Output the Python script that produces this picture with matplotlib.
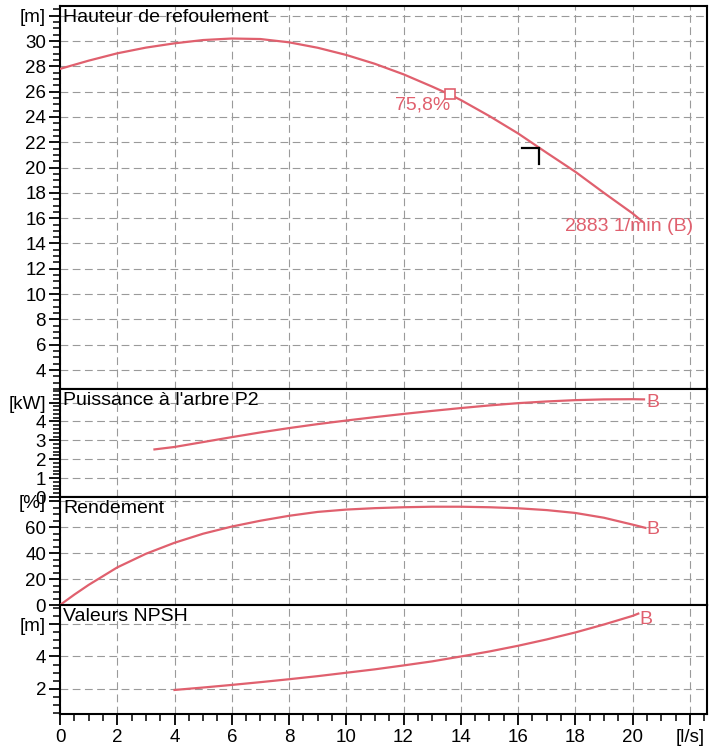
import matplotlib
matplotlib.use("Agg")
import matplotlib.pyplot as plt
from matplotlib.ticker import MultipleLocator

plt.rcParams['font.family'] = ['Liberation Sans', 'DejaVu Sans']

# ---------------- data ----------------
q_head = [0, 1, 2, 3, 4, 5, 6, 7, 8, 9, 10, 11, 12, 13, 13.6, 14, 15, 16, 17, 18, 19, 20, 20.35]
head = [27.8, 28.45, 29.03, 29.48, 29.82, 30.08, 30.2, 30.16, 29.9, 29.47, 28.9, 28.2,
        27.37, 26.4, 25.79, 25.34, 24.07, 22.7, 21.17, 19.67, 18.0, 16.38, 15.72]

q_power = [3.3, 4, 5, 6, 7, 8, 9, 10, 11, 12, 13, 14, 15, 16, 17, 18, 19, 20, 20.4]
power = [2.52, 2.65, 2.91, 3.17, 3.42, 3.65, 3.86, 4.05, 4.23, 4.4, 4.56, 4.71, 4.85,
         4.97, 5.06, 5.13, 5.17, 5.18, 5.17]

q_eff = [0, 0.5, 1, 2, 3, 4, 5, 6, 7, 8, 9, 10, 11, 12, 13, 14, 15, 16, 17, 18, 19, 20, 20.45]
eff = [0, 8, 15.5, 29, 39.5, 48, 55, 60.5, 65, 68.8, 71.8, 73.6, 74.7, 75.4, 75.8, 75.8,
       75.4, 74.6, 73.2, 71.0, 67.3, 62.0, 59.5]

q_npsh = [4, 5, 6, 7, 8, 9, 10, 11, 12, 13, 14, 15, 16, 17, 18, 19, 20, 20.2]
npsh = [1.94, 2.09, 2.25, 2.42, 2.6, 2.79, 3.0, 3.21, 3.45, 3.7, 4.0, 4.31, 4.66, 5.05,
        5.48, 5.97, 6.5, 6.64]

best_q, best_h, best_label = 13.63, 25.79, "75,8%"
duty_q, duty_h = 16.72, 21.57
speed_label = "2883 1/min (B)"
curve_label = "B"

titles = ["Hauteur de refoulement", "Puissance à l'arbre P2", "Rendement", "Valeurs NPSH"]

head_ticks = list(range(4, 33, 2))
head_labels = [str(t) for t in head_ticks[:-1]] + ["[m]"]
power_ticks = [0, 1, 2, 3, 4, 5]
power_labels = ["0", "1", "2", "3", "4", "[kW]"]
eff_ticks = [0, 20, 40, 60, 80]
eff_labels = ["0", "20", "40", "60", "[%]"]
npsh_ticks = [2, 4, 6]
npsh_labels = ["2", "4", "[m]"]
x_ticks = list(range(0, 23, 2))
x_labels = [str(t) for t in x_ticks[:-1]] + ["[l/s]"]

# ---------------- style ----------------
RED = '#e0606e'
GRID = dict(color='#9a9a9a', linestyle=(0, (7, 4)), linewidth=0.8)
W, H = 720, 746
fig = plt.figure(figsize=(W / 100, H / 100), dpi=100)

L = 60 / W
R = 707 / W
bounds = [(6, 389), (389, 497), (497, 605), (605, 714)]
ylims = [(2.5, 32.77), (0, 5.72), (0, 83.3), (0.46, 7.17)]
yticks = [head_ticks, power_ticks, eff_ticks, npsh_ticks]
ylabels = [head_labels, power_labels, eff_labels, npsh_labels]
yminor = [0.5, 0.2, 5, 0.5]

axes = []
for i, (top, bot) in enumerate(bounds):
    ax = fig.add_axes([L, 1 - bot / H, R - L, (bot - top) / H])
    ax.set_xlim(0, 22.6)
    ax.set_ylim(*ylims[i])
    ax.set_yticks(yticks[i])
    ax.set_yticklabels(ylabels[i])
    ax.yaxis.set_minor_locator(MultipleLocator(yminor[i]))
    ax.set_xticks(x_ticks)
    ax.xaxis.set_minor_locator(MultipleLocator(0.5))
    ax.grid(True, which='major', **GRID)
    ax.set_axisbelow(True)
    for s in ax.spines.values():
        s.set_linewidth(1.5)
        s.set_color('black')
    ax.tick_params(axis='y', which='major', length=8, width=1.3, labelsize=13.5, pad=2)
    ax.tick_params(axis='y', which='minor', length=5, width=1.1)
    if i < 3:
        ax.tick_params(axis='x', which='both', bottom=False, labelbottom=False)
    else:
        ax.set_xticklabels(x_labels)
        ax.tick_params(axis='x', which='major', length=8, width=1.3, labelsize=13.5, pad=3)
        ax.tick_params(axis='x', which='minor', length=5, width=1.1)
    ax.annotate(titles[i], xy=(0, 1), xycoords='axes fraction', xytext=(3, -3),
                textcoords='offset pixels', ha='left', va='top', fontsize=14, color='black')
    axes.append(ax)

ax1, ax2, ax3, ax4 = axes

# head
ax1.plot(q_head, head, color=RED, lw=1.6, solid_capstyle='round', zorder=3)
ax1.plot([best_q], [best_h], marker='s', ms=6.5, mfc='white', mec=RED, mew=1.2, zorder=4)
ax1.annotate(best_label, xy=(best_q, best_h), xytext=(0, -2), textcoords='offset pixels',
             ha='right', va='top', color=RED, fontsize=14)
ax1.annotate(speed_label, xy=(q_head[-1], head[-1]), xytext=(-14, -5), textcoords='offset pixels',
             ha='center', va='center', color=RED, fontsize=14)
# duty point corner
ax1.plot([duty_q - 0.58, duty_q, duty_q], [duty_h, duty_h, duty_h - 1.25],
         color='black', lw=1.6, solid_joinstyle='miter', zorder=5)

# power
ax2.plot(q_power, power, color=RED, lw=1.6, zorder=3)
ax2.annotate(curve_label, xy=(q_power[-1], power[-1]), xytext=(2, -3), textcoords='offset pixels',
             ha='left', va='center', color=RED, fontsize=14)

# efficiency
ax3.plot(q_eff, eff, color=RED, lw=1.6, zorder=3)
ax3.annotate(curve_label, xy=(q_eff[-1], eff[-1]), xytext=(1, -2), textcoords='offset pixels',
             ha='left', va='center', color=RED, fontsize=14)

# npsh
ax4.plot(q_npsh, npsh, color=RED, lw=1.6, zorder=3)
ax4.annotate(curve_label, xy=(q_npsh[-1], npsh[-1]), xytext=(1, -6), textcoords='offset pixels',
             ha='left', va='center', color=RED, fontsize=14)

fig.savefig("out.png", dpi=100)
